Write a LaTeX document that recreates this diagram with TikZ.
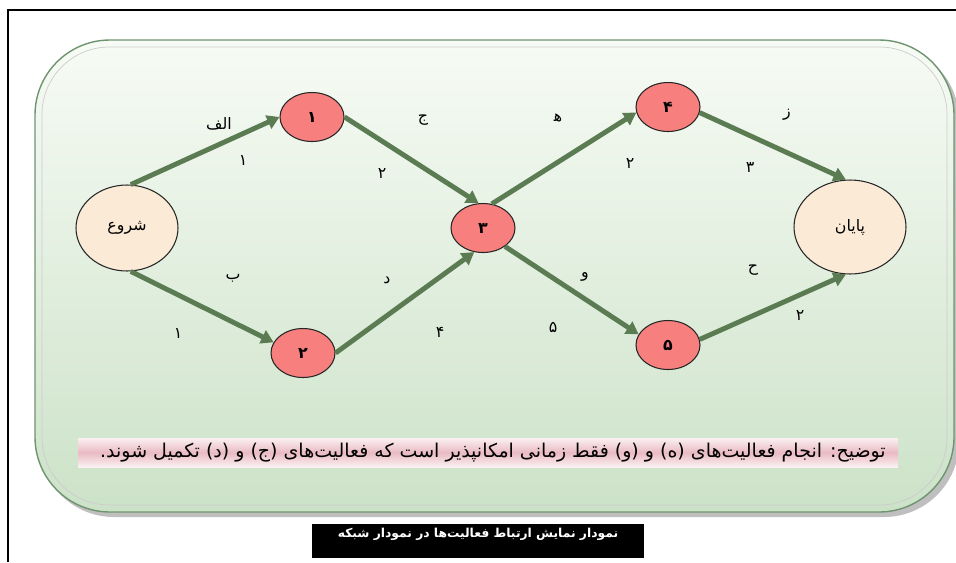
\documentclass[tikz,border=0pt]{standalone}
\usepackage{fontspec}
\usepackage{tikz}
\usetikzlibrary{arrows.meta, shapes.geometric}
\newfontfamily\fa[Script=Arabic]{DejaVu Sans}
\TeXXeTstate=1
\definecolor{actgreen}{HTML}{5B7C52}
\definecolor{evtred}{HTML}{F7807E}
\definecolor{termcream}{HTML}{FBEBD6}
\definecolor{panelrim}{HTML}{6F9470}
\definecolor{paneltop}{HTML}{F7FBF5}
\definecolor{panelbot}{HTML}{CCE2C8}
\definecolor{notepink}{HTML}{E9BAC3}
\definecolor{notelite}{HTML}{FBF1F2}

\begin{document}
\begin{tikzpicture}[x=0.02cm, y=-0.02cm, >={Triangle[length=7pt,width=8pt]},
    evt/.style={ellipse, draw=black!85, line width=0.6pt, fill=evtred,
        minimum width=1.28cm, minimum height=0.98cm, inner sep=0pt, font=\fa\bfseries\small},
    term/.style={ellipse, draw=black!85, line width=0.6pt, fill=termcream,
        minimum width=2.04cm, minimum height=1.72cm, inner sep=0pt, font=\fa\small},
    act/.style={->, line width=2.8pt, actgreen},
    lbl/.style={font=\fa\small, inner sep=1pt}]
    \useasboundingbox (0,0) rectangle (956,562);
    \fill[white] (0,0) rectangle (956,562);
    \draw[line width=1.2pt] (8,562) -- (8,10) -- (956,10);
    \fill[black!25, rounded corners=1.5cm] (39,45) rectangle (959,517);
    \shade[top color=paneltop, bottom color=panelbot, draw=panelrim, line width=0.8pt,
        rounded corners=1.5cm] (35,40) rectangle (954,512);
    \draw[white!60!gray, line width=0.4pt, rounded corners=1.35cm] (42,47) rectangle (947,505);
    \shade[top color=notelite, bottom color=notelite, middle color=notepink] (78,438) rectangle (898,467);

    \node[term] (start) at (127,228) {\beginR شروع\endR};
    \node[evt] (n1) at (312,117) {\beginR ۱\endR};
    \node[evt] (n2) at (303,353) {\beginR ۲\endR};
    \node[evt] (n3) at (483,228) {\beginR ۳\endR};
    \node[evt] (n4) at (668,107) {\beginR ۴\endR};
    \node[evt] (n5) at (668,345) {\beginR ۵\endR};
    \node[term, minimum width=2.24cm, minimum height=1.88cm] (fin) at (850,227) {\beginR پایان\endR};

    \draw[act] (start.85) -- (n1.west);
    \draw[act] (start.275) -- (n2.160);
    \draw[act] (n1.east) -- (n3.100);
    \draw[act] (n2.east) -- (n3.250);
    \draw[act] (n3.70) -- (n4.190);
    \draw[act] (n3.-40) -- (n5.160);
    \draw[act] (n4.-10) -- (fin.95);
    \draw[act] (n5.10) -- (fin.265);

    \node[lbl] (lalef) at (219,124) {\beginR الف\endR};
    \node[lbl] (dalef) at (243,160) {\beginR ۱\endR};
    \node[lbl] (lbe) at (233,278) {\beginR ب\endR};
    \node[lbl] (dbe) at (178,333) {\beginR ۱\endR};
    \node[lbl] (ljim) at (423,120) {\beginR ج\endR};
    \node[lbl] (djim) at (382,173) {\beginR ۲\endR};
    \node[lbl] (ldal) at (387,280) {\beginR د\endR};
    \node[lbl] (ddal) at (440,332) {\beginR ۴\endR};
    \node[lbl] (lhe) at (558,118) {\beginR ه^^^^200d\endR};
    \node[lbl] (dhe) at (630,163) {\beginR ۲\endR};
    \node[lbl] (lvav) at (585,277) {\beginR و\endR};
    \node[lbl] (dvav) at (553,327) {\beginR ۵\endR};
    \node[lbl] (lze) at (787,115) {\beginR ز\endR};
    \node[lbl] (dze) at (750,167) {\beginR ۳\endR};
    \node[lbl] (lhe2) at (753,270) {\beginR ح\endR};
    \node[lbl] (dhe2) at (800,315) {\beginR ۲\endR};

    \node[font=\fa\fontsize{10.8}{13}\selectfont, anchor=east, inner sep=0pt] (note) at (886,453)
        {\beginR توضیح: انجام فعالیت^^^^200cهای (ه) و (و) فقط زمانی امکانپذیر است که فعالیت^^^^200cهای (ج) و (د) تکمیل شوند.\endR};
    \node[fill=black, minimum width=6.66cm, minimum height=0.68cm, inner sep=0pt] (capbox) at (478,541) {};
    \node[font=\fa\bfseries\scriptsize, text=white, inner sep=0pt] (captxt) at (478,534)
        {\beginR نمودار  نمایش ارتباط فعالیت^^^^200cها در نمودار شبکه\endR};
\end{tikzpicture}
\end{document}
